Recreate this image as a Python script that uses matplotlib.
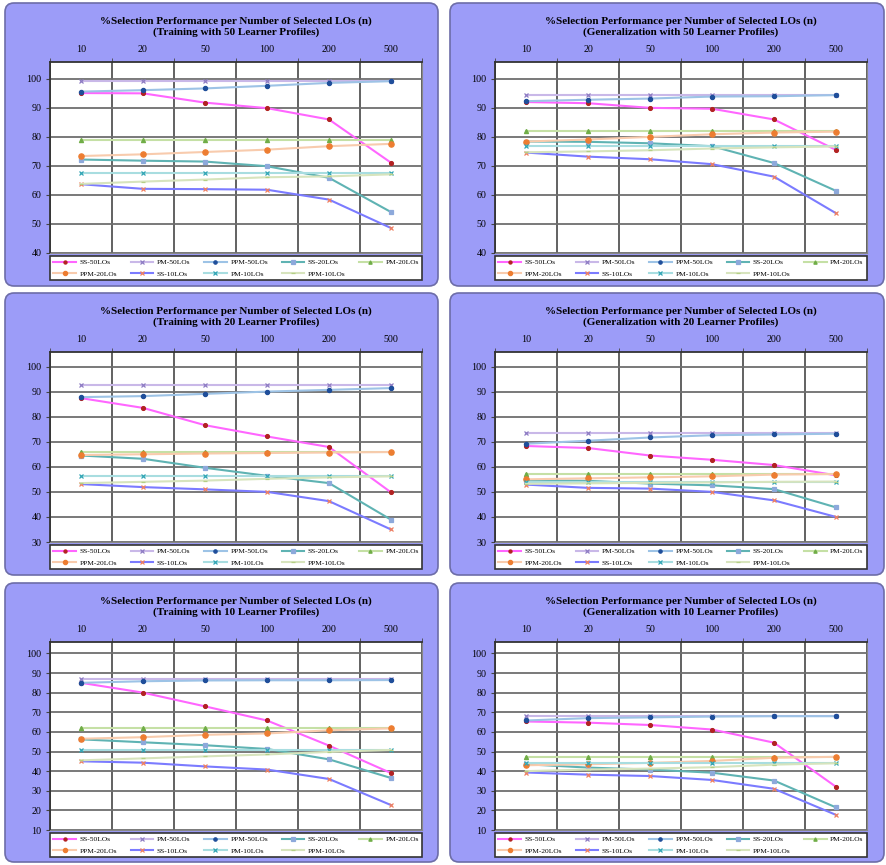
import matplotlib
matplotlib.use("Agg")
import matplotlib.pyplot as plt
from matplotlib.patches import FancyBboxPatch
from matplotlib.transforms import IdentityTransform

plt.rcParams['font.family'] = ['Liberation Serif', 'DejaVu Serif']

N_LOS = ["10", "20", "50", "100", "200", "500"]
SERIES = ["SS-50LOs", "PM-50LOs", "PPM-50LOs", "SS-20LOs", "PM-20LOs",
          "PPM-20LOs", "SS-10LOs", "PM-10LOs", "PPM-10LOs"]

# one row per series, same order as SERIES
train_50 = [
    [95.1, 95.0, 91.8, 89.9, 86.0, 71.1],
    [99.4, 99.4, 99.4, 99.4, 99.4, 99.4],
    [95.6, 96.1, 96.7, 97.6, 98.6, 99.2],
    [72.2, 71.8, 71.5, 69.9, 65.9, 54.1],
    [79.1, 79.1, 79.1, 79.1, 79.1, 79.1],
    [73.4, 74.0, 74.8, 75.6, 76.8, 77.6],
    [63.7, 62.1, 62.0, 61.8, 58.4, 48.6],
    [67.4, 67.4, 67.4, 67.4, 67.4, 67.4],
    [63.8, 64.6, 65.3, 66.1, 66.4, 67.1],
]
gen_50 = [
    [92.0, 91.6, 90.0, 89.7, 86.0, 75.5],
    [94.6, 94.6, 94.6, 94.6, 94.6, 94.6],
    [92.3, 92.8, 93.2, 93.9, 94.0, 94.4],
    [78.4, 78.3, 77.8, 76.8, 71.0, 61.4],
    [82.0, 82.0, 82.0, 82.0, 82.0, 82.0],
    [78.4, 79.1, 80.0, 80.9, 81.5, 81.8],
    [74.6, 73.2, 72.3, 70.6, 66.3, 53.7],
    [76.8, 76.8, 76.8, 76.8, 76.8, 76.8],
    [74.7, 75.0, 75.4, 76.0, 76.4, 76.7],
]
train_20 = [
    [87.4, 83.5, 76.6, 72.1, 67.9, 49.8],
    [92.7, 92.7, 92.7, 92.7, 92.7, 92.7],
    [87.8, 88.2, 89.1, 90.0, 90.7, 91.4],
    [64.5, 63.2, 59.6, 56.4, 53.5, 38.9],
    [65.8, 65.8, 65.8, 65.8, 65.8, 65.8],
    [64.7, 65.0, 65.3, 65.5, 65.7, 65.9],
    [53.1, 51.9, 51.0, 50.0, 46.3, 35.0],
    [56.3, 56.3, 56.3, 56.3, 56.3, 56.3],
    [53.5, 54.0, 54.5, 55.2, 55.8, 56.2],
]
gen_20 = [
    [68.3, 67.5, 64.5, 62.8, 60.7, 56.6],
    [73.4, 73.4, 73.4, 73.4, 73.4, 73.4],
    [69.2, 70.4, 71.7, 72.6, 72.9, 73.2],
    [54.6, 54.4, 53.3, 52.6, 51.1, 43.8],
    [57.1, 57.1, 57.1, 57.1, 57.1, 57.1],
    [55.0, 55.4, 55.8, 56.2, 56.9, 57.1],
    [52.9, 51.6, 51.3, 50.0, 46.6, 40.0],
    [54.1, 54.1, 54.1, 54.1, 54.1, 54.1],
    [53.2, 53.4, 53.6, 53.8, 54.0, 54.1],
]
train_10 = [
    [85.0, 80.0, 73.0, 65.8, 53.0, 39.0],
    [86.7, 86.7, 86.7, 86.7, 86.7, 86.7],
    [85.0, 85.8, 86.2, 86.3, 86.3, 86.4],
    [56.2, 54.7, 53.2, 51.3, 46.0, 36.5],
    [62.0, 62.0, 62.0, 62.0, 62.0, 62.0],
    [56.5, 57.3, 58.5, 59.2, 60.8, 61.8],
    [45.0, 44.3, 42.4, 40.8, 36.0, 22.7],
    [51.0, 51.0, 51.0, 51.0, 51.0, 51.0],
    [45.5, 46.5, 47.5, 48.5, 49.8, 50.8],
]
gen_10 = [
    [65.3, 64.7, 63.5, 61.2, 54.5, 32.0],
    [68.2, 68.2, 68.2, 68.2, 68.2, 68.2],
    [65.8, 67.0, 67.4, 67.8, 68.0, 68.0],
    [43.5, 41.8, 40.8, 39.2, 35.2, 21.5],
    [47.2, 47.2, 47.2, 47.2, 47.2, 47.2],
    [43.0, 43.5, 44.2, 45.2, 46.8, 47.3],
    [39.3, 38.2, 37.5, 35.5, 31.0, 17.7],
    [44.0, 44.0, 44.0, 44.0, 44.0, 44.0],
    [40.0, 40.8, 41.3, 42.0, 43.3, 44.0],
]

PANELS = [
    (train_50, "Training with 50 Learner Profiles", 40),
    (gen_50, "Generalization with 50 Learner Profiles", 40),
    (train_20, "Training with 20 Learner Profiles", 30),
    (gen_20, "Generalization with 20 Learner Profiles", 30),
    (train_10, "Training with 10 Learner Profiles", 10),
    (gen_10, "Generalization with 10 Learner Profiles", 10),
]

# line colour, marker, marker colour, marker size
STYLES = [
    ("#ff66ff", "o", "#b22222", 2.8),
    ("#c9b8e8", "x", "#8e7cc3", 2.8),
    ("#9dc3e6", "o", "#1f4e9a", 3.0),
    ("#5fb3b3", "s", "#8da9db", 3.0),
    ("#c5e0a5", "^", "#70ad47", 3.0),
    ("#f8cbad", "o", "#ed7d31", 3.8),
    ("#7b7bff", "x", "#f08060", 2.8),
    ("#a8dde0", "x", "#31a5b5", 2.8),
    ("#d7e4bd", "_", "#b5cf85", 2.8),
]

W, H = 886, 865
fig = plt.figure(figsize=(W / 100, H / 100), dpi=100)

# panel boxes in pixels (left, right) and (top, bottom) measured from the top edge
COLS = [(5, 438), (450, 884)]
ROWS = [(3, 286), (293, 575), (583, 862)]
PLOT_X = [(50, 422), (495, 867)]
PLOT_Y = [(62, 253), (352, 542), (642, 830)]

for (x0, x1) in COLS:
    for (y0, y1) in ROWS:
        fig.patches.append(FancyBboxPatch(
            (x0, H - y1), x1 - x0, y1 - y0,
            boxstyle="round,pad=0,rounding_size=9",
            transform=IdentityTransform(), facecolor="#9c9cf8",
            edgecolor="#6d6da8", linewidth=1.2, zorder=-5))

x = range(len(N_LOS))
for i, (data, subtitle, ymin) in enumerate(PANELS):
    r, c = divmod(i, 2)
    px0, px1 = PLOT_X[c]
    py0, py1 = PLOT_Y[r]
    ax = fig.add_axes([px0 / W, 1 - py1 / H, (px1 - px0) / W, (py1 - py0) / H])
    ax.set_facecolor("white")

    handles = []
    for vals, name, (lc, mk, mc, ms) in zip(data, SERIES, STYLES):
        h, = ax.plot(x, vals, color=lc, lw=1.5, marker=mk, ms=ms,
                     mfc=mc, mec=mc, mew=0.9, label=name, zorder=3)
        handles.append(h)

    ax.set_xlim(-0.5, 5.5)
    ax.set_ylim(ymin, 105.8)
    ax.set_yticks(range(ymin, 101, 10))
    ax.set_xticks(list(x))
    ax.set_xticklabels(N_LOS)
    ax.set_xticks([k + 0.5 for k in range(-1, 6)], minor=True)
    ax.xaxis.tick_top()
    ax.tick_params(axis="x", which="major", length=0, pad=6, labelsize=7.2)
    ax.tick_params(axis="x", which="minor", length=3, color="#444444", top=True)
    ax.tick_params(axis="y", length=3, pad=3, labelsize=7.2, color="#444444")
    ax.grid(True, axis="y", color="#6e6e6e", lw=1.3, zorder=1)
    ax.grid(True, axis="x", which="minor", color="#555555", lw=1.3, zorder=1)
    for s in ax.spines.values():
        s.set_color("#888888")
        s.set_linewidth(0.8)
    ax.spines["top"].set_color("#333333")
    ax.spines["left"].set_color("#333333")
    ax.spines["top"].set_linewidth(1.3)
    ax.spines["left"].set_linewidth(1.3)

    ax.text(0.5, 1 + 35 / (py1 - py0),
            "%Selection Performance per Number of Selected LOs (n)\n(" + subtitle + ")",
            transform=ax.transAxes, ha="center", va="center",
            fontsize=8.0, fontweight="bold", linespacing=1.2)

    order = [0, 5, 1, 6, 2, 7, 3, 8, 4]
    leg = ax.legend([handles[k] for k in order], [SERIES[k] for k in order],
                    loc="upper left", bbox_to_anchor=(0, -0.3, 1, 0.285),
                    mode="expand", ncol=5, fontsize=5.4, frameon=True,
                    fancybox=False, handlelength=3.0, handletextpad=0.5,
                    borderpad=0.45, labelspacing=0.7, borderaxespad=0,
                    columnspacing=1.0, markerscale=0.8,
                    facecolor="white", framealpha=1)
    leg.get_frame().set_edgecolor("#333333")
    leg.get_frame().set_linewidth(1.2)

fig.savefig("out.png", dpi=100)
